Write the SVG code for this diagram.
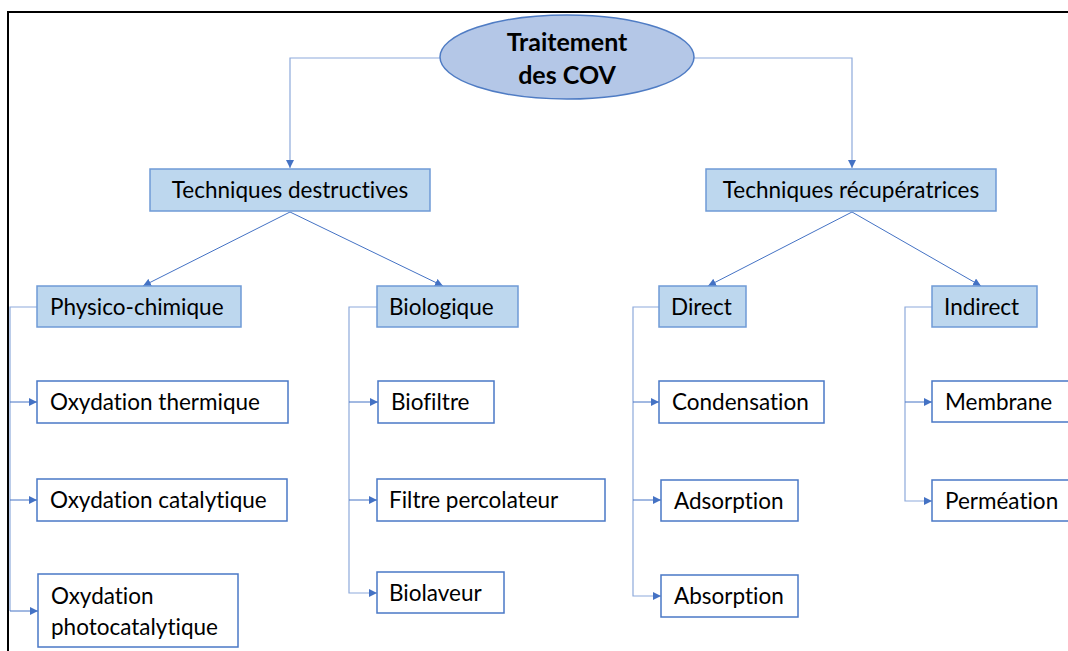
<svg xmlns="http://www.w3.org/2000/svg" width="1068" height="651" viewBox="0 0 1068 651">
<style>
.t{font-family:Lato,"Liberation Sans",sans-serif;font-size:22.5px;fill:#000;font-variant-ligatures:none;font-feature-settings:"liga" 0,"dlig" 0}
.c{text-anchor:middle}
.cat{fill:#bdd7ee;stroke:#6f9ad6;stroke-width:1.5}
.leaf{fill:#fff;stroke:#4a78c6;stroke-width:1.5}
.ln{fill:none;stroke:#4472c4;stroke-width:1}
.lt{fill:none;stroke:#8eaadb;stroke-width:1.2}
</style>
<defs>
<marker id="ar" viewBox="0 0 10 10" refX="10" refY="5" markerWidth="8" markerHeight="8" markerUnits="userSpaceOnUse" orient="auto">
<path d="M0,0 L10,5 L0,10 Z" fill="#4472c4"/>
</marker>
</defs>
<rect width="1068" height="651" fill="#fff"/>
<path d="M8,651 V12 H1068" fill="none" stroke="#000" stroke-width="2"/>
<g id="connectors">
<path class="lt" d="M440,58 H290 V168" marker-end="url(#ar)"/>
<path class="lt" d="M694,58 H852 V168" marker-end="url(#ar)"/>
<path class="ln" d="M290,212 L143,286" marker-end="url(#ar)"/>
<path class="ln" d="M290,212 L443,286" marker-end="url(#ar)"/>
<path class="ln" d="M852,212 L708,286" marker-end="url(#ar)"/>
<path class="ln" d="M852,212 L981,286" marker-end="url(#ar)"/>
<path class="lt" d="M37,307 H10 V611"/>
<path class="ln" d="M10,402 H37" marker-end="url(#ar)"/>
<path class="ln" d="M10,500 H37" marker-end="url(#ar)"/>
<path class="ln" d="M10,611 H38" marker-end="url(#ar)"/>
<path class="lt" d="M377,307 H349 V593 H377" marker-end="url(#ar)"/>
<path class="ln" d="M349,402 H378" marker-end="url(#ar)"/>
<path class="ln" d="M349,500 H377" marker-end="url(#ar)"/>
<path class="lt" d="M659,307 H633 V596 H661" marker-end="url(#ar)"/>
<path class="ln" d="M633,402 H659" marker-end="url(#ar)"/>
<path class="ln" d="M633,500 H661" marker-end="url(#ar)"/>
<path class="lt" d="M932,307 H905 V501 H932" marker-end="url(#ar)"/>
<path class="ln" d="M905,402 H932" marker-end="url(#ar)"/>
</g>
<g id="root">
<ellipse cx="567" cy="57" rx="127" ry="42" fill="#b4c7e7" stroke="#4f7cc4" stroke-width="1.5"/>
<text class="t c" x="567" y="51" style="font-weight:bold;font-size:25px">Traitement</text>
<text class="t c" x="567" y="84" style="font-weight:bold;font-size:25px">des COV</text>
</g>
<g id="destructives">
<rect class="cat" x="150" y="169" width="280" height="42"/>
<text class="t c" x="290" y="198">Techniques destructives</text>
</g>
<g id="recuperatrices">
<rect class="cat" x="706" y="169" width="290" height="42"/>
<text class="t c" x="851" y="198">Techniques récupératrices</text>
</g>
<g id="physico">
<rect class="cat" x="37" y="286" width="204" height="41"/>
<text class="t" x="50" y="315">Physico-chimique</text>
</g>
<g id="biologique">
<rect class="cat" x="377" y="286" width="141" height="41"/>
<text class="t" x="389" y="315">Biologique</text>
</g>
<g id="direct">
<rect class="cat" x="659" y="286" width="87" height="41"/>
<text class="t" x="671" y="315">Direct</text>
</g>
<g id="indirect">
<rect class="cat" x="932" y="286" width="105" height="41"/>
<text class="t" x="944" y="315">Indirect</text>
</g>
<g id="ox-thermique">
<rect class="leaf" x="37" y="381" width="251" height="42"/>
<text class="t" x="50" y="410">Oxydation thermique</text>
</g>
<g id="ox-catalytique">
<rect class="leaf" x="37" y="479" width="250" height="42"/>
<text class="t" x="50" y="508">Oxydation catalytique</text>
</g>
<g id="ox-photo">
<rect class="leaf" x="38" y="574" width="200" height="73"/>
<text class="t" x="51" y="604">Oxydation</text>
<text class="t" x="51" y="635">photocatalytique</text>
</g>
<g id="biofiltre">
<rect class="leaf" x="378" y="381" width="116" height="42"/>
<text class="t" x="391" y="410">Biofiltre</text>
</g>
<g id="filtre">
<rect class="leaf" x="377" y="479" width="228" height="42"/>
<text class="t" x="389" y="508">Filtre percolateur</text>
</g>
<g id="biolaveur">
<rect class="leaf" x="377" y="572" width="127" height="41"/>
<text class="t" x="389" y="601">Biolaveur</text>
</g>
<g id="condensation">
<rect class="leaf" x="659" y="381" width="165" height="42"/>
<text class="t" x="672" y="410">Condensation</text>
</g>
<g id="adsorption">
<rect class="leaf" x="661" y="480" width="137" height="41"/>
<text class="t" x="674" y="509">Adsorption</text>
</g>
<g id="absorption">
<rect class="leaf" x="661" y="575" width="137" height="42"/>
<text class="t" x="674" y="604">Absorption</text>
</g>
<g id="membrane">
<rect class="leaf" x="932" y="381" width="140" height="41"/>
<text class="t" x="945" y="410">Membrane</text>
</g>
<g id="permeation">
<rect class="leaf" x="932" y="480" width="140" height="41"/>
<text class="t" x="945" y="509">Perméation</text>
</g>
</svg>
